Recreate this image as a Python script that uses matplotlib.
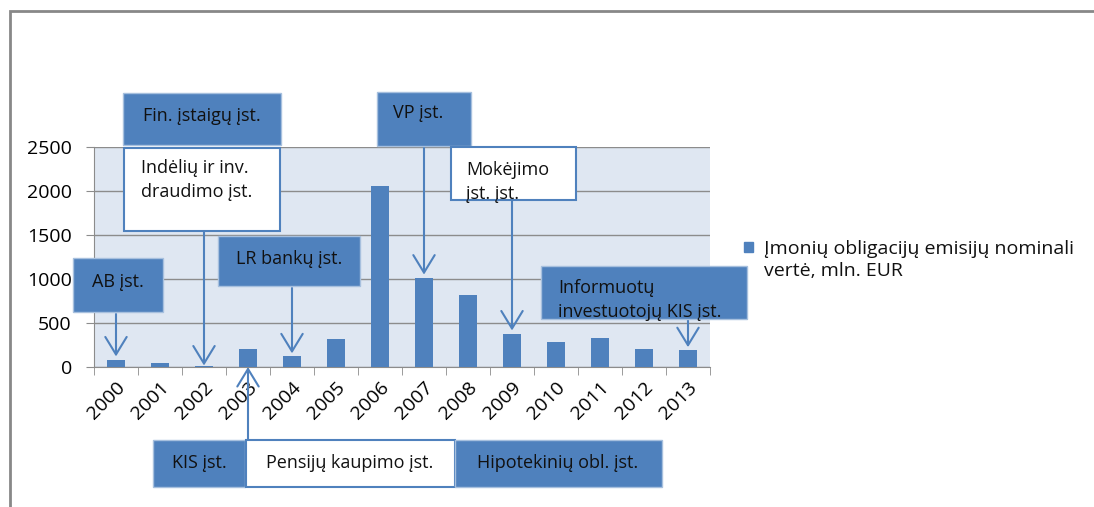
import matplotlib.pyplot as plt
from matplotlib.patches import Rectangle
from matplotlib.lines import Line2D

plt.rcParams['font.family'] = ['Open Sans', 'DejaVu Sans']

# Data
years = ['2000', '2001', '2002', '2003', '2004', '2005', '2006',
         '2007', '2008', '2009', '2010', '2011', '2012', '2013']
values = [85, 45, 12, 200, 120, 315, 2060, 1015, 815, 380, 285, 330, 200, 190]
series_label = 'Įmonių obligacijų emisijų nominali\nvertė, mln. EUR'

blue = '#4f81bd'
W, H = 1094, 507


def fx(x):
    return x / W


def fy(y):
    return 1 - y / H


fig = plt.figure(figsize=(W / 100, H / 100), dpi=100)
ax = fig.add_axes([fx(94), fy(367), (710 - 94) / W, (367 - 147) / H])

x = list(range(len(years)))
ax.bar(x, values, width=0.4, color=blue, zorder=3)
ax.set_facecolor('#dfe7f2')
ax.set_xlim(-0.5, len(years) - 0.5)
ax.set_ylim(0, 2500)
ax.set_yticks(range(0, 2501, 500))
ax.yaxis.grid(True, color='#8c8c8c', lw=1)
ax.set_axisbelow(True)
for s in ['top', 'right']:
    ax.spines[s].set_visible(False)
ax.spines['left'].set_color('#8c8c8c')
ax.spines['bottom'].set_color('#8c8c8c')
ax.tick_params(axis='y', length=6, color='#8c8c8c', labelsize=14, pad=10)
ax.set_xticks(x)
ax.set_xticklabels(years, rotation=45, ha='right', rotation_mode='anchor',
                   fontsize=14)
ax.tick_params(axis='x', length=0, pad=8)
ax.set_xticks([i - 0.5 for i in range(len(years) + 1)], minor=True)
ax.tick_params(axis='x', which='minor', length=6, color='#8c8c8c')


def box(x0, y0, x1, y1, filled=True):
    r = Rectangle((fx(x0), fy(y1)), (x1 - x0) / W, (y1 - y0) / H,
                  transform=fig.transFigure, zorder=5,
                  facecolor=blue if filled else 'white',
                  edgecolor='#a7c0de' if filled else blue,
                  lw=1 if filled else 1.5)
    fig.patches.append(r)


def label(xp, yp, txt, ha='center'):
    fig.text(fx(xp), fy(yp), txt, ha=ha, va='center', fontsize=13,
             color='#111111', zorder=6, linespacing=1.4)


def arrow(i, y_from, y_to_val):
    ax.annotate('', xy=(i, y_to_val), xycoords='data',
                xytext=(i, fy(y_from)), textcoords=('data', 'figure fraction'),
                arrowprops=dict(arrowstyle='->,head_length=0.9,head_width=0.55',
                                color=blue, lw=1.5, mutation_scale=14,
                                shrinkA=0, shrinkB=0),
                annotation_clip=False, zorder=7)


# top boxes
box(123, 93, 281, 145)
label(202, 116, 'Fin. įstaigų įst.')
box(124, 148, 280, 231, filled=False)
label(141, 180, 'Indėlių ir inv.\ndraudimo įst.', ha='left')
box(73, 258, 163, 312)
label(118, 282, 'AB įst.')
box(218, 236, 360, 286)
label(289, 259, 'LR bankų įst.')
box(377, 92, 471, 146)
label(393, 113, 'VP įst.', ha='left')
box(451, 147, 576, 200, filled=False)
label(466, 182, 'Mokėjimo\nįst. įst.', ha='left')
box(541, 266, 747, 319)
label(558, 300, 'Informuotų\ninvestuotojų KIS įst.', ha='left')

# bottom boxes
box(153, 440, 245, 487)
label(199, 463, 'KIS įst.')
box(246, 440, 455, 487, filled=False)
label(350, 463, 'Pensijų kaupimo įst.')
box(455, 440, 662, 487)
label(558, 463, 'Hipotekinių obl. įst.')

# arrows
off = 35
arrow(0, 314, values[0] + off)
arrow(2, 231, values[2] + 5)
arrow(4, 288, values[4] + off)
arrow(7, 146, values[7] + off)
arrow(9, 200, values[9] + off)
arrow(13, 319, values[13] + off)
arrow(3, 440, 0)

# legend
fig.patches.append(Rectangle((fx(744), fy(252)), 9 / W, 10 / H,
                             transform=fig.transFigure, color=blue))
fig.text(fx(764), fy(260), series_label, ha='left', va='center',
         fontsize=14, linespacing=1.3, color='#111111')

# outer frame
fig.add_artist(Line2D([fx(10), fx(10), 1.01], [-0.01, fy(11), fy(11)],
                      transform=fig.transFigure, color='#888888', lw=2,
                      solid_capstyle='butt', solid_joinstyle='miter'))

fig.savefig('out.png', dpi=100)
